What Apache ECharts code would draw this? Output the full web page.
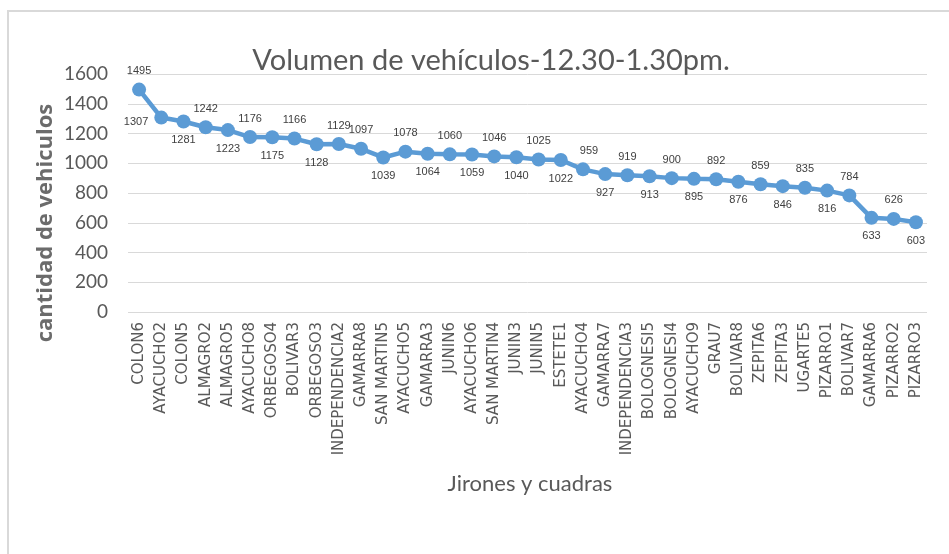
<!DOCTYPE html>
<html>
<head>
<meta charset="utf-8">
<script src="https://cdn.jsdelivr.net/npm/echarts@6/dist/echarts.min.js"></script>
<style>
  html, body { margin: 0; padding: 0; background: #ffffff; }
  #chart { width: 949px; height: 554px; }
</style>
</head>
<body>
<div id="chart"></div>
<script>
// Streets and blocks (jirones y cuadras)
const categories = [
  'COLON6', 'AYACUCHO2', 'COLON5', 'ALMAGRO2', 'ALMAGRO5', 'AYACUCHO8',
  'ORBEGOSO4', 'BOLIVAR3', 'ORBEGOSO3', 'INDEPENDENCIA2', 'GAMARRA8', 'SAN MARTIN5',
  'AYACUCHO5', 'GAMARRA3', 'JUNIN6', 'AYACUCHO6', 'SAN MARTIN4', 'JUNIN3',
  'JUNIN5', 'ESTETE1', 'AYACUCHO4', 'GAMARRA7', 'INDEPENDENCIA3', 'BOLOGNESI5',
  'BOLOGNESI4', 'AYACUCHO9', 'GRAU7', 'BOLIVAR8', 'ZEPITA6', 'ZEPITA3',
  'UGARTE5', 'PIZARRO1', 'BOLIVAR7', 'GAMARRA6', 'PIZARRO2', 'PIZARRO3'
];

// Vehicle count per block, 12:30-1:30 pm
const vehicles = [
  1495, 1307, 1281, 1242, 1223, 1176,
  1175, 1166, 1128, 1129, 1097, 1039,
  1078, 1064, 1060, 1059, 1046, 1040,
  1025, 1022, 959, 927, 919, 913,
  900, 895, 892, 876, 859, 846,
  835, 816, 784, 633, 626, 603
];

const yTicks = [0, 200, 400, 600, 800, 1000, 1200, 1400, 1600];

// Where each value label sits relative to its marker
const labelSide = [
  'top', 'left', 'bottom', 'top', 'bottom', 'top',
  'bottom', 'top', 'bottom', 'top', 'top', 'bottom',
  'top', 'bottom', 'top', 'bottom', 'top', 'bottom',
  'top', 'bottom', 'top', 'bottom', 'top', 'bottom',
  'top', 'bottom', 'top', 'bottom', 'top', 'bottom',
  'top', 'bottom', 'top', 'bottom', 'top', 'bottom'
];

const seriesData = vehicles.map((v, i) => ({
  value: v,
  label: {
    position: labelSide[i],
    offset: i === 20 ? [6, 0] : (i === 1 ? [0, 4] : [0, 0])
  }
}));

const chart = echarts.init(document.getElementById('chart'), null, { renderer: 'canvas' });

chart.setOption({
  backgroundColor: '#ffffff',
  animation: false,
  title: {
    text: 'Volumen de vehículos-12.30-1.30pm.',
    left: 486,
    textAlign: 'center',
    top: 41,
    textStyle: {
      fontFamily: 'Lato',
      fontSize: 29,
      fontWeight: 'normal',
      color: '#595959'
    }
  },
  graphic: [
    {
      type: 'rect',
      shape: { x: 8, y: 11, width: 960, height: 560 },
      style: { fill: 'none', stroke: '#d9d9d9', lineWidth: 2 },
      silent: true
    },
    {
      type: 'text',
      x: 46,
      y: 223,
      rotation: Math.PI / 2,
      style: {
        text: 'cantidad de vehiculos',
        fontFamily: 'Open Sans',
        fontWeight: 'bold',
        fontSize: 22,
        fill: '#6b6b6b',
        align: 'center',
        verticalAlign: 'middle'
      }
    },
    {
      type: 'text',
      x: 530,
      y: 484,
      style: {
        text: 'Jirones y cuadras',
        fontFamily: 'Lato',
        fontSize: 22,
        fill: '#595959',
        align: 'center',
        verticalAlign: 'middle'
      }
    }
  ],
  grid: {
    left: 128,
    right: 22,
    top: 74,
    bottom: 242,
    containLabel: false,
    outerBounds: { left: 0, right: 0, top: 0, bottom: 0 }
  },
  xAxis: {
    type: 'category',
    data: categories,
    boundaryGap: true,
    axisLine: { show: false },
    axisTick: { show: false },
    axisLabel: {
      rotate: 90,
      interval: 0,
      margin: 10,
      fontFamily: 'DejaVu Sans',
      fontSize: 15,
      color: '#595959'
    }
  },
  yAxis: {
    type: 'value',
    min: yTicks[0],
    max: yTicks[yTicks.length - 1],
    interval: 200,
    axisLine: { show: false },
    axisTick: { show: false },
    axisLabel: {
      margin: 20,
      fontFamily: 'Lato',
      fontSize: 19,
      color: '#595959',
      formatter: (v) => String(v)
    },
    splitLine: { lineStyle: { color: '#d9d9d9', width: 1 } }
  },
  series: [
    {
      type: 'line',
      data: seriesData,
      symbol: 'circle',
      symbolSize: 14,
      lineStyle: { color: '#5b9bd5', width: 4.5 },
      itemStyle: { color: '#5b9bd5' },
      label: {
        show: true,
        distance: 6,
        fontFamily: 'Liberation Sans',
        fontSize: 11,
        color: '#404040'
      }
    }
  ]
});
</script>
</body>
</html>
